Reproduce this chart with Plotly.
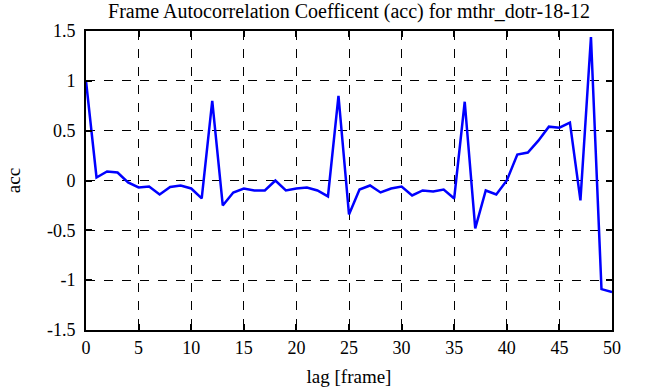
import plotly.graph_objects as go

lags = list(range(0, 51))
acc = [1.0, 0.03, 0.09, 0.08, -0.02, -0.07, -0.06, -0.14, -0.065, -0.05,
       -0.08, -0.18, 0.80, -0.25, -0.12, -0.08, -0.1, -0.1, 0.0, -0.1,
       -0.08, -0.07, -0.1, -0.16, 0.85, -0.34, -0.09, -0.05, -0.12, -0.08,
       -0.06, -0.15, -0.1, -0.11, -0.09, -0.18, 0.79, -0.48, -0.1, -0.14,
       0.0, 0.26, 0.28, 0.40, 0.54, 0.53, 0.58, -0.2, 1.44, -1.09, -1.12]

x_ticks = [0, 5, 10, 15, 20, 25, 30, 35, 40, 45, 50]
y_ticks = [-1.5, -1, -0.5, 0, 0.5, 1, 1.5]
y_tick_labels = ["-1.5", "-1", "-0.5", "0", "0.5", "1", "1.5"]

font_family = "Liberation Serif, Times New Roman, serif"

fig = go.Figure()
fig.add_trace(go.Scatter(x=lags, y=acc, mode="lines",
                         line=dict(color="#0000ff", width=2.5),
                         showlegend=False))

axis_common = dict(
    showline=True, linecolor="black", linewidth=2, mirror="ticks",
    ticks="inside", ticklen=6, tickwidth=2, tickcolor="black",
    showgrid=True, gridcolor="black", gridwidth=1, griddash="dash",
    zeroline=False, automargin=False,
    tickfont=dict(family=font_family, size=18, color="black"),
)

fig.update_layout(
    width=651, height=387,
    paper_bgcolor="white", plot_bgcolor="white",
    margin=dict(l=86, r=39, t=31, b=57),
    title=dict(text="Frame Autocorrelation Coefficent (acc) for mthr_dotr-18-12",
               xref="paper", x=0.5, xanchor="center",
               yref="container", y=1 - 11 / 387, yanchor="middle",
               font=dict(family=font_family, size=20, color="black")),
    xaxis=dict(range=[0, 50], tickvals=x_ticks, ticklabelstandoff=0,
               title=dict(text="lag [frame]", standoff=13,
                          font=dict(family=font_family, size=19, color="black")),
               **axis_common),
    yaxis=dict(range=[-1.5, 1.5], tickvals=y_ticks, ticktext=y_tick_labels,
               ticklabelstandoff=5,
               title=dict(text="acc", standoff=21,
                          font=dict(family=font_family, size=19, color="black")),
               **axis_common),
)

fig.write_html("out.html", config={"displayModeBar": False},
               post_script="document.body.style.margin='0';")
